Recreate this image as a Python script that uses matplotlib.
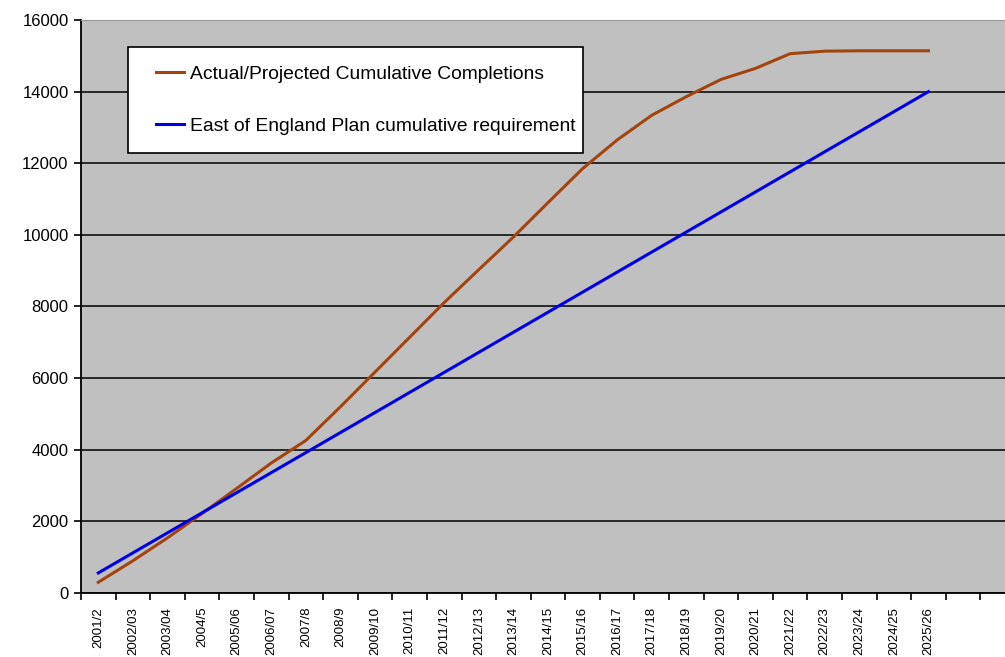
import matplotlib.pyplot as plt
from matplotlib.ticker import FixedLocator
from matplotlib.patches import Rectangle

plt.rcParams['font.family'] = ['Liberation Sans', 'DejaVu Sans']

years = ["2001/2", "2002/03", "2003/04", "2004/5", "2005/06", "2006/07", "2007/8",
         "2008/9", "2009/10", "2010/11", "2011/12", "2012/13", "2013/14", "2014/15",
         "2015/16", "2016/17", "2017/18", "2018/19", "2019/20", "2020/21", "2021/22",
         "2022/23", "2023/24", "2024/25", "2025/26"]
actual = [300, 900, 1540, 2220, 2920, 3630, 4260, 5200, 6170, 7140, 8110, 9030, 9940,
          10900, 11850, 12650, 13340, 13860, 14340, 14650, 15060, 15130, 15140, 15140, 15140]
plan = [560, 1120, 1680, 2240, 2800, 3360, 3920, 4480, 5040, 5600, 6160, 6720, 7280,
        7840, 8400, 8960, 9520, 10080, 10640, 11200, 11760, 12320, 12880, 13440, 14000]
n_slots = 27  # the axis carries two empty category slots after 2025/26

W, H = 1005, 657
fig = plt.figure(figsize=(W / 100, H / 100), dpi=100)
ax = fig.add_axes([81 / W, 64 / H, 934 / W, 573 / H])
ax.set_facecolor('#c0c0c0')

x = list(range(len(years)))
ax.plot(x, actual, color='#a3440f', lw=2.2, label='Actual/Projected Cumulative Completions')
ax.plot(x, plan, color='#0000e6', lw=2.2, label='East of England Plan cumulative requirement')

ax.set_xlim(-0.5, n_slots - 0.5)
ax.set_ylim(0, 16000)
ax.set_yticks(range(0, 16001, 2000))
ax.yaxis.grid(True, color='black', lw=1.1)
ax.set_axisbelow(True)

ax.set_xticks(x)
ax.set_xticklabels(years, rotation=90, fontsize=9.5)
ax.xaxis.set_minor_locator(FixedLocator([i - 0.5 for i in range(n_slots + 1)]))
ax.tick_params(axis='x', which='major', length=0, pad=10)
ax.tick_params(axis='x', which='minor', length=5, width=1.2, direction='out')
ax.tick_params(axis='y', length=5, width=1.2, direction='out', labelsize=12, pad=4)

for s in ['left', 'bottom']:
    ax.spines[s].set_linewidth(1.3)
ax.spines['right'].set_visible(False)
ax.spines['top'].set_color('#999999')

# legend box drawn separately so its padding can match the original
box = Rectangle((128 / W, 1 - 153 / H), (583 - 128) / W, (153 - 47) / H,
                transform=fig.transFigure, facecolor='white', edgecolor='black',
                lw=1.2, zorder=5, clip_on=False)
ax.add_patch(box)
leg = ax.legend(loc='center left', bbox_to_anchor=(156 / W, 1 - 100 / H),
                bbox_transform=fig.transFigure, fontsize=13.9, frameon=False,
                handlelength=1.45, handletextpad=0.3, labelspacing=1.8,
                borderpad=0, borderaxespad=0)
leg.set_zorder(6)

plt.savefig('out.png', dpi=100)
